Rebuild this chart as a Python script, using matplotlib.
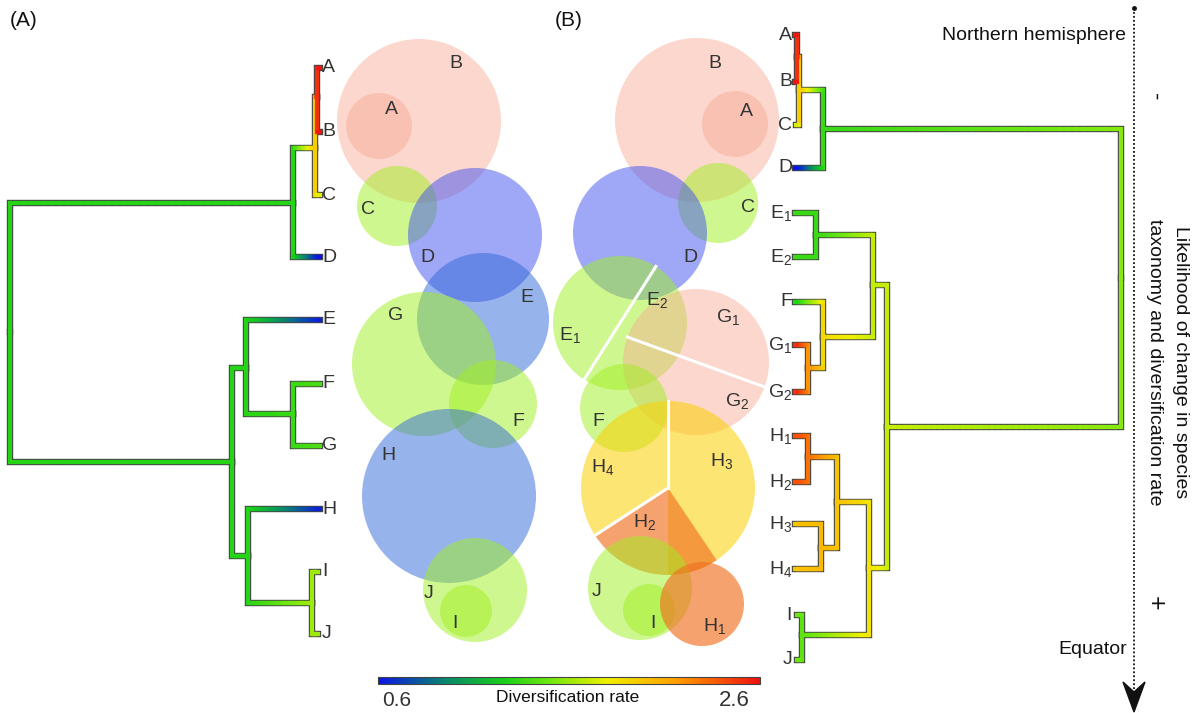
import numpy as np
import matplotlib.pyplot as plt
from matplotlib.patches import Circle, Wedge, Polygon, Rectangle
from matplotlib.collections import LineCollection
from matplotlib.colors import LinearSegmentedColormap, Normalize

plt.rcParams['font.family'] = ['Liberation Sans', 'DejaVu Sans']
plt.rcParams['mathtext.default'] = 'regular'

# diversification rate colour scale
rate_min, rate_max = 0.6, 2.6
cmap = LinearSegmentedColormap.from_list('rate', [
    (0.0, '#0a14e6'), (0.18, '#0a8a6a'), (0.33, '#18d018'), (0.45, '#70e810'),
    (0.6, '#f0f000'), (0.78, '#ffa000'), (1.0, '#f01010')])
norm = Normalize(rate_min, rate_max)

# ---- tree (A): node -> (x, y, parent, rate)
tree_a = {
    'root': (10, 332, None, 1.3),
    'ABCD': (293, 203, 'root', 1.3),
    'ABC': (315, 148, 'ABCD', 1.95),
    'AB': (317, 97, 'ABC', 2.5),
    'A': (320, 68, 'AB', 2.6),
    'B': (320, 132, 'AB', 2.6),
    'C': (320, 195, 'ABC', 1.75),
    'D': (320, 257, 'ABCD', 0.6),
    'EJ': (232, 462, 'root', 1.3),
    'EFG': (246, 368, 'EJ', 1.3),
    'E': (320, 320, 'EFG', 0.65),
    'FG': (293, 414, 'EFG', 1.35),
    'F': (320, 384, 'FG', 1.4),
    'G': (320, 446, 'FG', 1.4),
    'HIJ': (248, 556, 'EJ', 1.3),
    'H': (320, 509, 'HIJ', 0.65),
    'IJ': (312, 603, 'HIJ', 1.6),
    'I': (318, 572, 'IJ', 1.6),
    'J': (318, 634, 'IJ', 1.6),
}
tips_a = ['A', 'B', 'C', 'D', 'E', 'F', 'G', 'H', 'I', 'J']

# ---- tree (B)
tree_b = {
    'root': (1121, 278, None, 1.55),
    'ABCD': (823, 129, 'root', 1.35),
    'ABC': (799, 90, 'ABCD', 1.95),
    'AB': (797, 57, 'ABC', 2.5),
    'A': (795, 35, 'AB', 2.6),
    'B': (795, 82, 'AB', 2.6),
    'C': (796, 125, 'ABC', 1.7),
    'D': (795, 168, 'ABCD', 0.6),
    'EJ': (887, 427, 'root', 1.7),
    'EFG': (873, 285, 'EJ', 1.7),
    'E': (816, 235, 'EFG', 1.35),
    'E1': (795, 213, 'E', 1.35),
    'E2': (795, 257, 'E', 1.35),
    'FG': (823, 337, 'EFG', 1.9),
    'F': (795, 302, 'FG', 1.3),
    'G': (808, 368, 'FG', 2.2),
    'G1': (795, 345, 'G', 2.5),
    'G2': (795, 392, 'G', 2.5),
    'HIJ': (869, 568, 'EJ', 1.85),
    'Hall': (837, 502, 'HIJ', 2.0),
    'H12': (808, 457, 'Hall', 2.3),
    'H1': (795, 436, 'H12', 2.4),
    'H2': (795, 482, 'H12', 2.4),
    'H34': (821, 548, 'Hall', 2.05),
    'H3': (795, 524, 'H34', 2.0),
    'H4': (795, 569, 'H34', 2.0),
    'IJ': (802, 635, 'HIJ', 1.45),
    'I': (797, 615, 'IJ', 1.5),
    'J': (797, 660, 'IJ', 1.5),
}
tips_b = ['A', 'B', 'C', 'D', 'E1', 'E2', 'F', 'G1', 'G2', 'H1', 'H2', 'H3', 'H4', 'I', 'J']
tip_text_b = ['A', 'B', 'C', 'D', 'E$_1$', 'E$_2$', 'F', 'G$_1$', 'G$_2$',
              'H$_1$', 'H$_2$', 'H$_3$', 'H$_4$', 'I', 'J']

# ---- range circles, panel (A)
circ_a_x = [419, 379, 397, 475, 483, 424, 493, 449, 475, 466]
circ_a_y = [121, 126, 206, 235, 319, 364, 404, 496, 590, 611]
circ_a_r = [82, 33, 40, 67, 66, 72, 44, 87, 52, 26]
circ_a_kind = ['pink', 'pink', 'green', 'blue', 'blue2', 'green', 'green', 'blue2', 'green', 'green']
lab_a = ['B', 'A', 'C', 'D', 'E', 'G', 'F', 'H', 'J', 'I']
lab_a_x = [456, 391, 368, 427, 527, 396, 518, 388, 429, 455]
lab_a_y = [63, 110, 209, 258, 297, 315, 422, 455, 593, 623]

# ---- range circles, panel (B)
circ_b_x = [697, 735, 718, 640, 620, 696, 624, 640, 649, 702]
circ_b_y = [120, 124, 203, 233, 323, 362, 408, 588, 610, 604]
circ_b_r = [82, 33, 40, 67, 67, 73, 44, 52, 26, 42]
circ_b_kind = ['pink', 'pink', 'green', 'blue', 'green', 'pink', 'green', 'green', 'green', 'orange']
split_angle_e, split_angle_g = -57.6, -160.0
# H range split into three sectors
h_center = (668, 488)
h_radius = 87
h_sectors = [(-90, 90, 'yellow'), (-213, -90, 'yellow'), (56, 147, 'orange')]
h_cuts = [-90, 147]
lab_b = ['B', 'A', 'C', 'D', 'E$_1$', 'E$_2$', 'G$_1$', 'G$_2$', 'F',
         'H$_4$', 'H$_3$', 'H$_2$', 'J', 'I', 'H$_1$']
lab_b_x = [715, 746, 748, 690, 570, 657, 728, 737, 598, 603, 722, 645, 597, 653, 715]
lab_b_y = [64, 111, 207, 258, 335, 300, 317, 401, 422, 467, 461, 522, 592, 623, 626]

fills = {
    'pink': ('#f8a892', 0.45),
    'green': ('#a0f020', 0.5),
    'blue': ('#4050f0', 0.5),
    'blue2': ('#3068d8', 0.5),
    'yellow': ('#fbd000', 0.55),
    'orange': ('#f07020', 0.65),
}

fig = plt.figure(figsize=(11.96, 7.13), dpi=100)
ax = fig.add_axes([0, 0, 1, 1])


def draw_tree(nodes):
    # outlines first
    for name, (x, y, par, r) in nodes.items():
        if par is None:
            continue
        px, py, _, pr = nodes[par]
        ax.plot([px, px, x], [py, y, y], color='#454545', lw=4.6,
                solid_joinstyle='miter', solid_capstyle='projecting', zorder=5)
    for name, (x, y, par, r) in nodes.items():
        if par is None:
            continue
        px, py, _, pr = nodes[par]
        ax.plot([px, px], [py, y], color=cmap(norm(pr)), lw=3.0,
                solid_capstyle='projecting', zorder=6)
        xs = np.linspace(px, x, 41)
        segs = [[(xs[i], y), (xs[i + 1], y)] for i in range(40)]
        cols = cmap(norm(np.linspace(pr, r, 40)))
        ax.add_collection(LineCollection(segs, colors=cols, linewidths=3.0,
                                         capstyle='projecting', zorder=6))


draw_tree(tree_a)
draw_tree(tree_b)

tcol = '#333333'
for t in tips_a:
    x, y, _, _ = tree_a[t]
    ax.text(322, y, t, fontsize=14, color=tcol, ha='left', va='center')
for t, s in zip(tips_b, tip_text_b):
    x, y, _, _ = tree_b[t]
    ax.text(792, y, s, fontsize=14, color=tcol, ha='right', va='center')

# circles (A)
for x, y, r, k in zip(circ_a_x, circ_a_y, circ_a_r, circ_a_kind):
    c, a = fills[k]
    ax.add_patch(Circle((x, y), r, facecolor=c, alpha=a, edgecolor='none', zorder=2))
for s, x, y in zip(lab_a, lab_a_x, lab_a_y):
    ax.text(x, y, s, fontsize=14, color=tcol, ha='center', va='center', zorder=4)

# circles (B)
for x, y, r, k in zip(circ_b_x[:7], circ_b_y[:7], circ_b_r[:7], circ_b_kind[:7]):
    c, a = fills[k]
    ax.add_patch(Circle((x, y), r, facecolor=c, alpha=a, edgecolor='none', zorder=2))
for t1, t2, k in h_sectors:
    c, a = fills[k]
    ax.add_patch(Wedge(h_center, h_radius, t1, t2, facecolor=c, alpha=a,
                       edgecolor='none', zorder=2))
for x, y, r, k in zip(circ_b_x[7:], circ_b_y[7:], circ_b_r[7:], circ_b_kind[7:]):
    c, a = fills[k]
    ax.add_patch(Circle((x, y), r, facecolor=c, alpha=a, edgecolor='none', zorder=2))

# white split lines
for (cx, cy, r), ang in [((circ_b_x[4], circ_b_y[4], circ_b_r[4]), split_angle_e),
                         ((circ_b_x[5], circ_b_y[5], circ_b_r[5]), split_angle_g)]:
    t = np.deg2rad(ang)
    ax.plot([cx - r * np.cos(t), cx + r * np.cos(t)],
            [cy - r * np.sin(t), cy + r * np.sin(t)], color='white', lw=2.2, zorder=3)
for ang in h_cuts:
    t = np.deg2rad(ang)
    ax.plot([h_center[0], h_center[0] + h_radius * np.cos(t)],
            [h_center[1], h_center[1] + h_radius * np.sin(t)], color='white', lw=2.2, zorder=3)
for s, x, y in zip(lab_b, lab_b_x, lab_b_y):
    ax.text(x, y, s, fontsize=14, color=tcol, ha='center', va='center', zorder=4)

# colour bar
grad = np.linspace(rate_min, rate_max, 256)[None, :]
ax.imshow(grad, cmap=cmap, norm=norm, extent=(378, 760, 684, 677), aspect='auto', zorder=5)
ax.add_patch(Rectangle((378, 677), 382, 7, fill=False, edgecolor='#444444', lw=0.8, zorder=6))
ax.text(397, 700, '0.6', fontsize=15, color=tcol, ha='center', va='center')
ax.text(734, 700, '2.6', fontsize=16, color=tcol, ha='center', va='center')
ax.text(568, 697, 'Diversification rate', fontsize=12.5, color='#111111', ha='center', va='center')

# panel labels
ax.text(10, 20, '(A)', fontsize=15, color='#111111', ha='left', va='center')
ax.text(555, 20, '(B)', fontsize=15, color='#111111', ha='left', va='center')

# latitude arrow
ax.plot([1134, 1134], [8, 690], color='#111111', lw=1.3, ls=(0, (1, 1.2)), zorder=5)
ax.plot([1134], [8], marker='o', ms=2.5, color='#111111')
ax.add_patch(Polygon([(1134, 712), (1123, 682), (1134, 692), (1145, 682)],
                     closed=True, color='#111111', zorder=6))
ax.text(1126, 35, 'Northern hemisphere', fontsize=14, color='#111111', ha='right', va='center')
ax.text(1127, 650, 'Equator', fontsize=14, color='#111111', ha='right', va='center')
ax.text(1155, 97, '-', fontsize=16, rotation=-90, ha='center', va='center', color='#111111')
ax.text(1155, 603, '+', fontsize=18, rotation=-90, ha='center', va='center', color='#111111')
ax.text(1180, 362, 'Likelihood of change in species', fontsize=14, rotation=-90,
        ha='center', va='center', color='#111111')
ax.text(1154, 362, 'taxonomy and diversification rate', fontsize=14, rotation=-90,
        ha='center', va='center', color='#111111')

ax.set_xlim(0, 1196)
ax.set_ylim(713, 0)
ax.axis('off')
fig.savefig('out.png', dpi=100, facecolor='white')
